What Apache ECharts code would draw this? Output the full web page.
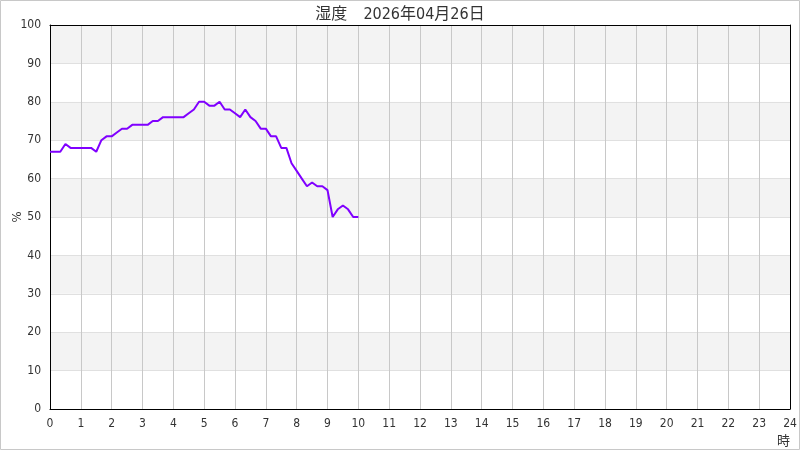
<!DOCTYPE html>
<html><head><meta charset="utf-8">
<script src="https://cdn.jsdelivr.net/npm/echarts@6/dist/echarts.min.js"></script>
<style>html,body{margin:0;padding:0;background:#fff}#c{width:800px;height:450px}</style>
</head><body><div id="c"></div>
<script>
const titleText = '湿度\u30002026年04月26日';
const stepMinutes = 10;
const humidity = [67,67,67,69,68,68,68,68,68,67,70,71,71,72,73,73,74,74,74,74,75,75,76,76,76,76,76,77,78,80,80,79,79,80,78,78,77,76,78,76,75,73,73,71,71,68,68,64,62,60,58,59,58,58,57,50,52,53,52,50,50];
const xTicks = [0,24];
const yTicks = [0,100];
const seriesData = humidity.map((v,i)=>[i*stepMinutes/60, v]);
const FONT = '"DejaVu Sans Condensed","Noto Sans CJK JP",sans-serif';
const chart = echarts.init(document.getElementById('c'));
chart.setOption({
  animation:false,
  backgroundColor:'#fff',
  title:{text:titleText,left:'center',top:2,textStyle:{fontSize:16,fontWeight:'normal',color:'#333',fontFamily:FONT}},
  grid:{left:50,right:10,top:25,bottom:41,containLabel:false,outerBoundsMode:'none'},
  graphic:[{type:'rect',shape:{x:0.5,y:0.5,width:799,height:449},style:{fill:'none',stroke:'#c8c8c8',lineWidth:1},z:-1}],
  xAxis:[{type:'value',min:xTicks[0],max:xTicks[1],interval:1,
    name:'時',nameLocation:'end',nameGap:0,nameMoveOverlap:false,
    nameTextStyle:{align:'right',verticalAlign:'top',padding:[26,0,0,0],fontSize:13,color:'#333',fontFamily:FONT},
    axisLine:{show:true,lineStyle:{color:'#000',width:1}},axisTick:{show:false},
    axisLabel:{fontSize:12,color:'#333',margin:9,fontFamily:FONT},
    splitLine:{show:true,lineStyle:{color:'#c8c8c8',width:1}}},
   {type:'value',position:'top',min:xTicks[0],max:xTicks[1],axisLine:{show:true,onZero:false,lineStyle:{color:'#000'}},axisTick:{show:false},axisLabel:{show:false},splitLine:{show:false}}],
  yAxis:[{type:'value',min:yTicks[0],max:yTicks[1],interval:10,
    name:'%',nameLocation:'middle',nameGap:26,nameRotate:90,nameMoveOverlap:false,
    nameTextStyle:{fontSize:13,color:'#333',fontFamily:FONT},
    axisLine:{show:true,lineStyle:{color:'#000',width:1}},axisTick:{show:false},
    axisLabel:{fontSize:12,color:'#333',margin:9,fontFamily:FONT},
    splitLine:{show:true,lineStyle:{color:'#e0e0e0',width:1}},
    splitArea:{show:true,areaStyle:{color:['#ffffff','#f3f3f3']}}},
   {type:'value',position:'right',min:yTicks[0],max:yTicks[1],axisLine:{show:true,onZero:false,lineStyle:{color:'#000'}},axisTick:{show:false},axisLabel:{show:false},splitLine:{show:false}}],
  series:[{type:'line',data:seriesData,showSymbol:false,symbol:'none',
    lineStyle:{color:'#8000ff',width:2},itemStyle:{color:'#8000ff'}}]
});
</script></body></html>
